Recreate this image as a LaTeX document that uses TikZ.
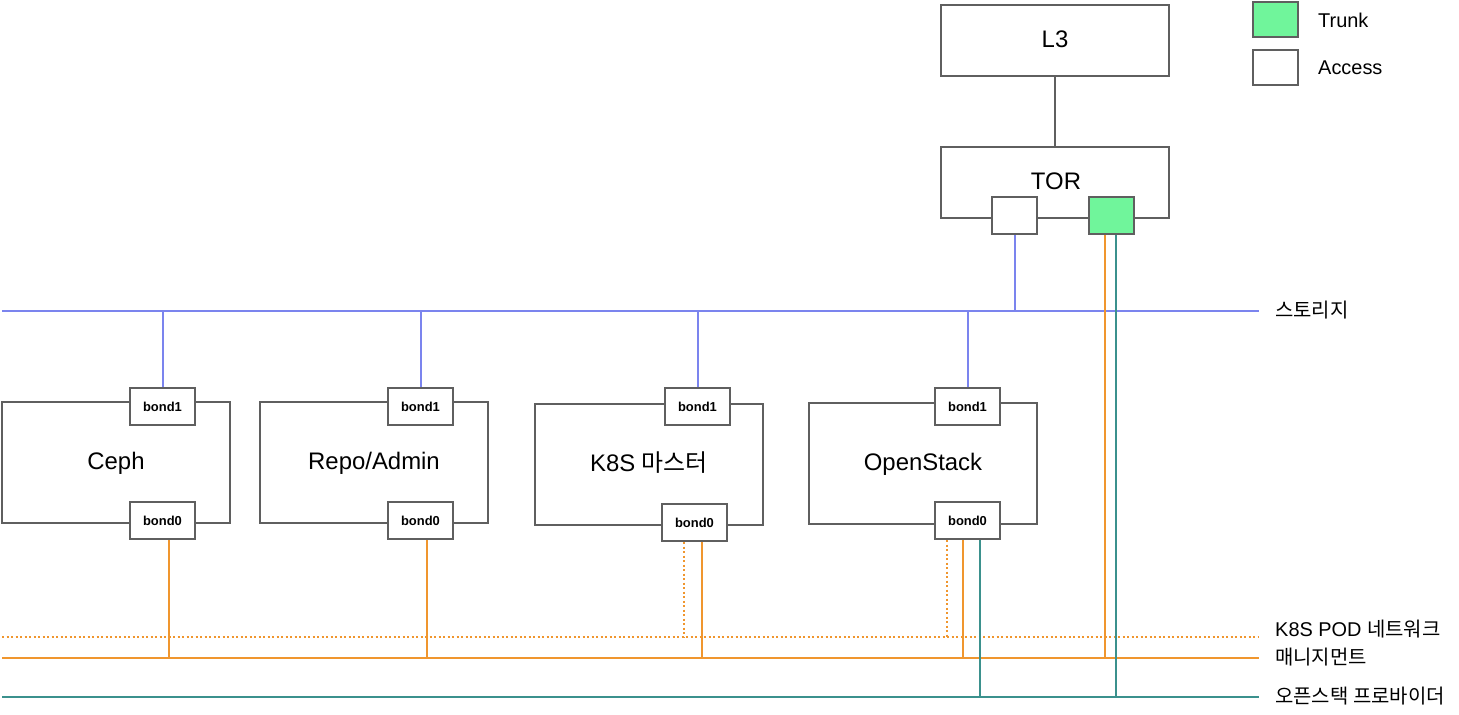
\documentclass[tikz,border=0pt]{standalone}
\usepackage{fontspec}
\setmainfont{Liberation Sans}
\newfontfamily\krfont{Noto Sans CJK KR}
\usepackage{tikz}
\usetikzlibrary{positioning}
\definecolor{nGray}{HTML}{5F5F5F}
\definecolor{nBlue}{HTML}{7B84EE}
\definecolor{nOrange}{HTML}{F0962E}
\definecolor{nTeal}{HTML}{3B918D}
\definecolor{nGreen}{HTML}{70F59B}

\begin{document}
\begin{tikzpicture}[x=1bp, y=-1bp,
  box/.style={draw=nGray, line width=2bp, minimum width=228bp, minimum height=121bp,
              inner sep=0pt, text height=14bp, text depth=0pt,
              font=\fontsize{24}{27}\selectfont},
  switch/.style={box, minimum height=71bp},
  port/.style={draw=nGray, line width=2bp, fill=white, minimum width=65bp, minimum height=37bp,
               inner sep=0pt, font=\fontsize{13}{15}\selectfont\bfseries},
  legend/.style={draw=nGray, line width=2bp, minimum width=45bp, minimum height=35bp, inner sep=0pt},
  lbl/.style={anchor=west, inner sep=0pt, font=\fontsize{20}{24}\selectfont},
  uplink/.style={draw=nGray, line width=2bp},
  stor/.style={draw=nBlue, line width=2bp},
  mgmt/.style={draw=nOrange, line width=2bp},
  pod/.style={draw=nOrange, line width=2bp, dash pattern=on 2bp off 2.5bp},
  prov/.style={draw=nTeal, line width=2bp},
]
  \useasboundingbox (0,0) rectangle (1459,715);

  % switches
  \node[switch] (l3) at (1055, 40.5) {L3};
  \node[switch] (tor) at (1055, 182.5) {};
  \node[font=\fontsize{24}{27}\selectfont, inner sep=0pt, text height=14bp, text depth=0pt] (torT) at (1056, 182.5) {TOR};
  \node[port, minimum width=45bp] (torA) at (1014.5, 215.5) {};
  \node[port, minimum width=45bp, fill=nGreen] (torT2) at (1111.5, 215) {};
  \draw[uplink] (l3) -- (tor);

  % legend
  \node[legend, fill=nGreen] (legT) at (1275.5, 19.5) {};
  \node[legend, fill=white] (legA) at (1275.5, 67.5) {};
  \node[lbl] (legTT) at (1318, 20) {Trunk};
  \node[lbl] (legAT) at (1318, 68) {Access};

  % servers
  \node[box] (ceph) at (116, 462.5) {Ceph};
  \node[box] (repo) at (374, 462.5) {Repo/Admin};
  \node[box] (k8s) at (649, 464.5) {K8S {\krfont 마스터}};
  \node[box] (os) at (923, 463.5) {OpenStack};

  \node[port] (cephB1) at (162.5, 406.5) {bond1};
  \node[port] (cephB0) at (162.5, 520.5) {bond0};
  \node[port] (repoB1) at (420.5, 406.5) {bond1};
  \node[port] (repoB0) at (420.5, 520.5) {bond0};
  \node[port] (k8sB1) at (697.5, 406.5) {bond1};
  \node[port] (k8sB0) at (694.5, 522.5) {bond0};
  \node[port] (osB1) at (967.5, 406.5) {bond1};
  \node[port] (osB0) at (967.5, 520.5) {bond0};

  % networks
  \coordinate (storL) at (2, 311);
  \coordinate (storR) at (1259, 311);
  \coordinate (podL) at (2, 637);
  \coordinate (podR) at (1259, 637);
  \coordinate (mgmtL) at (2, 658);
  \coordinate (mgmtR) at (1259, 658);
  \coordinate (provL) at (2, 697);
  \coordinate (provR) at (1259, 697);

  \draw[stor] (storL) -- (storR);
  \draw[pod] (podL) -- (podR);
  \draw[mgmt] (mgmtL) -- (mgmtR);
  \draw[prov] (provL) -- (provR);

  \node[lbl] (storT) at (1275, 310) {\krfont 스토리지};
  \node[lbl] (podT) at (1275, 629) {K8S POD {\krfont 네트워크}};
  \node[lbl] (mgmtT) at (1275, 657) {\krfont 매니지먼트};
  \node[lbl] (provT) at (1275, 696) {\krfont 오픈스택 프로바이더};

  % storage drops
  \draw[stor] (torA.south) -- (torA.south |- storL);
  \foreach \p in {cephB1, repoB1, k8sB1, osB1}
    \draw[stor] (\p.north) -- (\p.north |- storL);

  % trunk
  \draw[mgmt] ([xshift=-6.5bp]torT2.south) -- ([xshift=-6.5bp]torT2.south |- mgmtL);
  \draw[prov] ([xshift=4.5bp]torT2.south) -- ([xshift=4.5bp]torT2.south |- provL);

  % bond0 drops
  \draw[mgmt] ([xshift=6.5bp]cephB0.south) -- ([xshift=6.5bp]cephB0.south |- mgmtL);
  \draw[mgmt] ([xshift=6.5bp]repoB0.south) -- ([xshift=6.5bp]repoB0.south |- mgmtL);
  \draw[pod] ([xshift=-10.5bp]k8sB0.south) -- ([xshift=-10.5bp]k8sB0.south |- podL);
  \draw[mgmt] ([xshift=7.5bp]k8sB0.south) -- ([xshift=7.5bp]k8sB0.south |- mgmtL);
  \draw[pod] ([xshift=-20.5bp]osB0.south) -- ([xshift=-20.5bp]osB0.south |- podL);
  \draw[mgmt] ([xshift=-4.5bp]osB0.south) -- ([xshift=-4.5bp]osB0.south |- mgmtL);
  \draw[prov] ([xshift=12.5bp]osB0.south) -- ([xshift=12.5bp]osB0.south |- provL);
\end{tikzpicture}
\end{document}
